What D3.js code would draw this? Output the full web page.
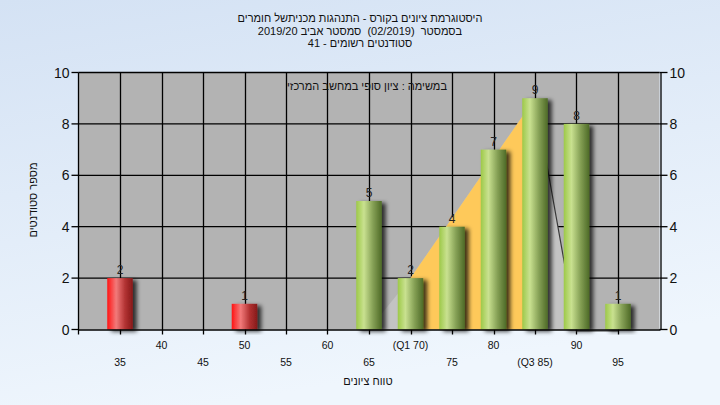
<!DOCTYPE html>
<html><head><meta charset="utf-8">
<script src="https://cdn.jsdelivr.net/npm/d3@7/dist/d3.min.js"></script>
<style>
html,body{margin:0;padding:0;width:720px;height:405px;overflow:hidden;}
svg{display:block;font-family:"Liberation Sans",Arial,"DejaVu Sans",sans-serif;}
text{white-space:pre;}
</style></head>
<body>
<svg id="c" width="720" height="405"></svg>
<script>
// ---- data ----
const categories = [35,40,45,50,55,60,65,70,75,80,85,90,95];
const counts     = [2,0,0,1,0,0,5,2,4,7,9,8,1];
const passMark   = 55;
const tickLabelsTop    = {40:"40",50:"50",60:"60",70:"(Q1 70)",80:"80",90:"90"};
const tickLabelsBottom = {35:"35",45:"45",55:"55",65:"65",75:"75",85:"(Q3 85)",95:"95"};
const yTicks = [0,2,4,6,8,10];
const rangeX = [65,70,85,90,95];
const rangeY = [0,2,9,0,0];
const iqrX = [70,85];
const iqrY = [2,9];
const tailX = [85,90,95];
const tailY = [9,0,0];
const titleLines = [
  "היסטוגרמת ציונים בקורס - התנהגות מכניתשל חומרים",
  "בסמסטר  (02/2019)  סמסטר אביב 2019/20",
  "סטודנטים רשומים - 41"
];
const noteText = "במשימה : ציון סופי במחשב המרכזי";
const xTitle = "טווח ציונים";
const yTitle = "מספר סטודנטים";

// ---- layout ----
const W=720,H=405;
const L=78.5, R=659.5, T=72.5, B=329.5;
const svg=d3.select("#c");
const defs=svg.append("defs");

const bg=defs.append("linearGradient").attr("id","bg").attr("x1",0).attr("y1",0).attr("x2",0.3).attr("y2",1);
bg.append("stop").attr("offset","0%").attr("stop-color","#d4e2f4");
bg.append("stop").attr("offset","100%").attr("stop-color","#eff6fd");

const gg=defs.append("linearGradient").attr("id","gGreen").attr("x1",0).attr("y1",0).attr("x2",1).attr("y2",0);
[["0%","#9dc948"],["30%","#c9e190"],["65%","#86a156"],["100%","#4e6a27"]].forEach(s=>gg.append("stop").attr("offset",s[0]).attr("stop-color",s[1]));
const gr=defs.append("linearGradient").attr("id","gRed").attr("x1",0).attr("y1",0).attr("x2",1).attr("y2",0);
[["0%","#ff1414"],["35%","#f27a7a"],["70%","#b23232"],["100%","#861a1a"]].forEach(s=>gr.append("stop").attr("offset",s[0]).attr("stop-color",s[1]));

const f=defs.append("filter").attr("id","sh").attr("x","-30%").attr("y","-10%").attr("width","180%").attr("height","130%");
f.append("feDropShadow").attr("dx",4).attr("dy",2).attr("stdDeviation",2).attr("flood-color","#000").attr("flood-opacity",0.75);

svg.append("rect").attr("width",W).attr("height",H).attr("fill","url(#bg)");

const xs=d3.scaleLinear().domain([30,100]).range([L,R]);
const ys=d3.scaleLinear().domain([0,10]).range([B,T]);

// plot background
svg.append("rect").attr("x",L).attr("y",T).attr("width",R-L).attr("height",B-T).attr("fill","#b3b3b3");

// gridlines
svg.append("g").selectAll("line.h").data(yTicks.filter(d=>d>0)).join("line")
  .attr("x1",L).attr("x2",R).attr("y1",d=>ys(d)).attr("y2",d=>ys(d))
  .attr("stroke","#000").attr("stroke-width",1.3);
svg.append("g").selectAll("line.v").data(categories).join("line")
  .attr("x1",d=>Math.round(xs(d))+0.5).attr("x2",d=>Math.round(xs(d))+0.5).attr("y1",T).attr("y2",B+5)
  .attr("stroke","#000").attr("stroke-width",1.3);

// range area (light) and IQR area (orange)
svg.append("path").datum(rangeX.map((x,i)=>[x,rangeY[i]]))
  .attr("d",d3.area().x(d=>xs(d[0])).y0(ys(0)).y1(d=>ys(d[1])))
  .attr("fill","#c3c3c3");
svg.append("path").datum(iqrX.map((x,i)=>[x,iqrY[i]]))
  .attr("d",d3.area().x(d=>xs(d[0])).y0(ys(0)).y1(d=>ys(d[1])))
  .attr("fill","#fec95a");
svg.append("path").datum(tailX.map((x,i)=>[x,tailY[i]]))
  .attr("d",d3.line().x(d=>xs(d[0])).y(d=>ys(d[1])+(d[1]===0?1.5:0)))
  .attr("fill","none").attr("stroke","#3a3a3a").attr("stroke-width",1.2);

// bars
const bw=25.5;
const data=categories.map((c,i)=>({c,v:counts[i]}));
svg.append("g").selectAll("rect").data(data.filter(d=>d.v>0)).join("rect")
  .attr("x",d=>xs(d.c)-bw/2).attr("width",bw)
  .attr("y",d=>ys(d.v)).attr("height",d=>ys(0)-ys(d.v))
  .attr("fill",d=>d.c<passMark?"url(#gRed)":"url(#gGreen)")
  .attr("filter","url(#sh)");

// value labels
svg.append("g").selectAll("text").data(data.filter(d=>d.v>0)).join("text")
  .attr("x",d=>xs(d.c)).attr("y",d=>ys(d.v)-4)
  .attr("text-anchor","middle").attr("font-size",12).attr("fill","#222").text(d=>d.v);

// axes lines
svg.append("line").attr("x1",L).attr("x2",R+1).attr("y1",B+0.5).attr("y2",B+0.5).attr("stroke","#000").attr("stroke-width",1.3);
svg.append("line").attr("x1",L).attr("x2",L).attr("y1",T).attr("y2",B+5).attr("stroke","#000").attr("stroke-width",1.3);
svg.append("line").attr("x1",R+1.5).attr("x2",R+1.5).attr("y1",T).attr("y2",B).attr("stroke","#000").attr("stroke-width",1.3);

// y ticks both sides
const yg=svg.append("g");
yg.selectAll("line.l").data(yTicks).join("line").attr("x1",L-7).attr("x2",L).attr("y1",d=>ys(d)).attr("y2",d=>ys(d)).attr("stroke","#000").attr("stroke-width",1.3);
yg.selectAll("line.r").data(yTicks).join("line").attr("x1",R).attr("x2",R+8).attr("y1",d=>ys(d)).attr("y2",d=>ys(d)).attr("stroke","#000").attr("stroke-width",1.3);
yg.selectAll("text.l").data(yTicks).join("text").attr("x",L-9).attr("y",d=>ys(d)+5).attr("text-anchor","end")
  .attr("font-size",14).attr("fill","#111").text(d=>d);
yg.selectAll("text.r").data(yTicks).join("text").attr("x",R+10).attr("y",d=>ys(d)+5).attr("text-anchor","start")
  .attr("font-size",14).attr("fill","#111").text(d=>d);

// x tick labels (two rows)
const xg=svg.append("g").attr("font-size",10.5).attr("fill","#111").attr("text-anchor","middle");
xg.selectAll("text.t").data(Object.keys(tickLabelsTop)).join("text")
  .attr("x",d=>xs(+d)).attr("y",349).text(d=>tickLabelsTop[d]);
xg.selectAll("text.b").data(Object.keys(tickLabelsBottom)).join("text")
  .attr("x",d=>xs(+d)).attr("y",366).text(d=>tickLabelsBottom[d]);

// titles
svg.append("g").selectAll("text").data(titleLines).join("text")
  .attr("x",360).attr("y",(d,i)=>22+i*12.5).attr("text-anchor","middle").attr("direction","rtl")
  .attr("font-size",11).attr("fill","#111").text(d=>d);
svg.append("text").attr("x",447).attr("y",90).attr("text-anchor","start").attr("direction","rtl")
  .attr("font-size",11).attr("fill","#111").text(noteText);
svg.append("text").attr("x",368).attr("y",385).attr("text-anchor","middle").attr("direction","rtl")
  .attr("font-size",11).attr("fill","#111").text(xTitle);
svg.append("text").attr("transform","translate(37,200) rotate(-90)").attr("text-anchor","middle").attr("direction","rtl")
  .attr("font-size",11).attr("fill","#111").text(yTitle);
</script>
</body></html>
